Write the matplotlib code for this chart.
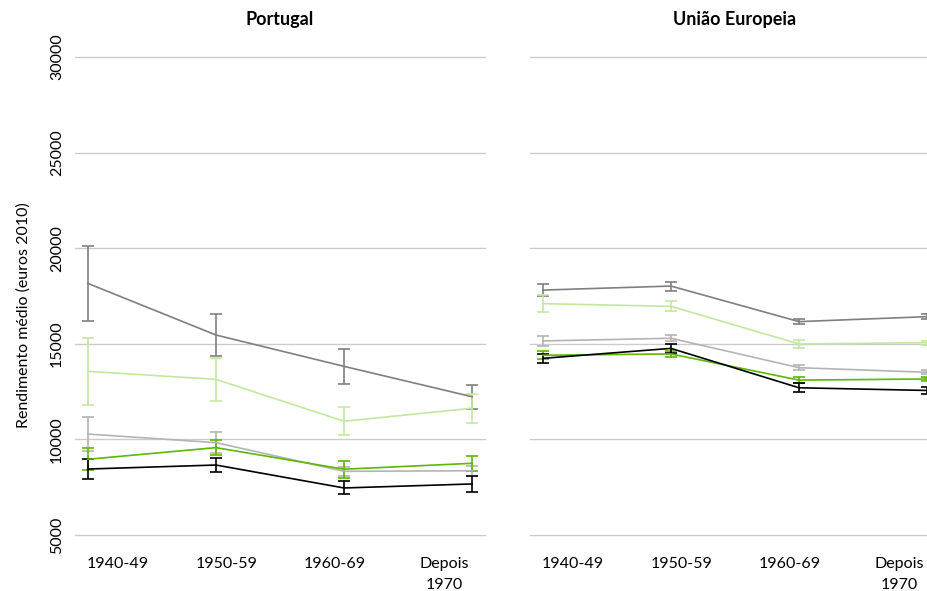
import matplotlib.pyplot as plt
import numpy as np

plt.rcParams['font.family'] = ['Lato', 'DejaVu Sans']

periodos = ["1940-49", "1950-59", "1960-69", "Depois\n1970"]
paineis = ["Portugal", "União Europeia"]

# valores médios por série (Portugal, UE)
pt_cinza_esc = [18160, 15460, 13820, 12230]
pt_verde_cl = [13560, 13140, 10950, 11630]
pt_cinza_cl = [10280, 9830, 8330, 8360]
pt_verde = [8960, 9570, 8440, 8750]
pt_preto = [8450, 8660, 7460, 7670]

ue_cinza_esc = [17810, 18020, 16160, 16420]
ue_verde_cl = [17100, 16960, 14990, 15060]
ue_cinza_cl = [15150, 15290, 13750, 13510]
ue_verde = [14400, 14470, 13100, 13160]
ue_preto = [14240, 14760, 12700, 12560]

# erros (metade do intervalo)
pt_err_cinza_esc = [1950, 1100, 930, 630]
pt_err_verde_cl = [1740, 1130, 720, 750]
pt_err_cinza_cl = [890, 540, 250, 250]
pt_err_verde = [580, 400, 450, 400]
pt_err_preto = [520, 390, 340, 420]

ue_err_cinza_esc = [310, 235, 150, 120]
ue_err_verde_cl = [450, 260, 230, 100]
ue_err_cinza_cl = [250, 150, 120, 100]
ue_err_verde = [200, 150, 150, 100]
ue_err_preto = [220, 235, 225, 200]

cores = ["#b4b4b4", "#7f7f7f", "#c2e89e", "#5cb800", "#000000"]

dados = {
    "Portugal": ([pt_cinza_cl, pt_cinza_esc, pt_verde_cl, pt_verde, pt_preto],
                 [pt_err_cinza_cl, pt_err_cinza_esc, pt_err_verde_cl, pt_err_verde, pt_err_preto]),
    "União Europeia": ([ue_cinza_cl, ue_cinza_esc, ue_verde_cl, ue_verde, ue_preto],
                       [ue_err_cinza_cl, ue_err_cinza_esc, ue_err_verde_cl, ue_err_verde, ue_err_preto]),
}

fig = plt.figure(figsize=(9.28, 5.91), dpi=100)
ax1 = fig.add_axes([75 / 928, 56 / 591, 410 / 928, 478 / 591])
ax2 = fig.add_axes([530 / 928, 56 / 591, 410 / 928, 478 / 591])

x = np.arange(len(periodos))
pos_rotulos = [0.23, 1.08, 1.93, 2.78]

for ax, nome in zip([ax1, ax2], paineis):
    series, erros = dados[nome]
    for s, e, c in zip(series, erros, cores):
        ax.errorbar(x, s, yerr=e, color=c, lw=1.2, elinewidth=1.2,
                    capsize=4, capthick=1.2)
    ax.set_xlim(-0.1, 3.1)
    ax.set_ylim(5000, 30000)
    ax.set_yticks([5000, 10000, 15000, 20000, 25000, 30000])
    ax.grid(axis='y', color='#cccccc', lw=1)
    for gl in ax.get_ygridlines():
        gl.set_clip_on(False)
    ax.set_axisbelow(True)
    for sp in ax.spines.values():
        sp.set_visible(False)
    ax.set_xticks(pos_rotulos)
    ax.set_xticklabels(periodos, fontsize=11.5, linespacing=1.6)
    ax.tick_params(axis='x', length=0, pad=16)
    ax.tick_params(axis='y', length=0)
    ax.set_title(nome, fontsize=13, fontweight='bold', pad=23)

for lab in ax1.get_yticklabels():
    lab.set_rotation(90)
    lab.set_va('center')
    lab.set_fontsize(11.5)
ax1.tick_params(axis='y', pad=8)
ax1.set_ylabel("Rendimento médio (euros 2010)", fontsize=11.5)
ax1.yaxis.set_label_coords(-0.108, 0.46)
ax2.set_yticklabels([])

fig.savefig("out.png", dpi=100)
